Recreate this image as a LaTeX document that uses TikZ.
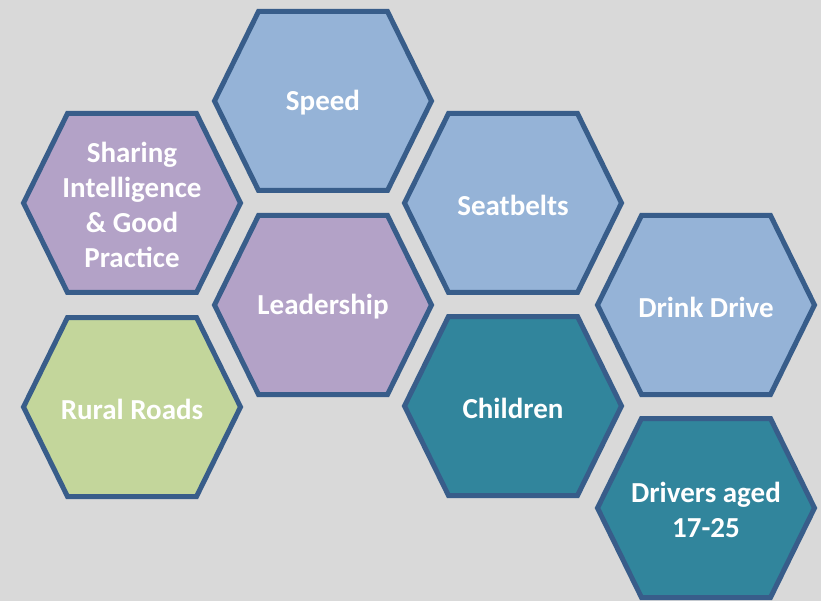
\documentclass[tikz,border=0pt]{standalone}
\usepackage{fontspec}
\setmainfont{Carlito}
\definecolor{bgc}{HTML}{D9D9D9}
\definecolor{edgec}{HTML}{385D8A}
\definecolor{bluec}{HTML}{95B3D7}
\definecolor{purplec}{HTML}{B3A2C7}
\definecolor{greenc}{HTML}{C3D69B}
\definecolor{tealc}{HTML}{31859C}
\tikzset{
  hexline/.style={draw=edgec, line width=5pt, line join=miter},
  hextext/.style={text=white, font=\fontsize{29}{35}\selectfont\bfseries, align=center, inner sep=0pt},
}
\newcommand{\hexcell}[5]{%
  \draw[hexline, fill=#4, shift={(#2,#3)}] (-108.5,0) -- (-64.5,-89.5) -- (64.5,-89.5) -- (108.5,0) -- (64.5,89.5) -- (-64.5,89.5) -- cycle;
  \node[hextext] (#1) at (#2,#3+2) {#5};
}
\begin{document}
\begin{tikzpicture}[x=1pt,y=-1pt]
\fill[bgc] (0,0) rectangle (821,601);
\useasboundingbox (0,0) rectangle (821,601);
\begin{scope}
\clip (0,0) rectangle (821,601);
\hexcell{speed}{323}{101}{bluec}{Speed}
\hexcell{sharing}{132}{203}{purplec}{Sharing\\Intelligence\\\& Good\\Practice}
\hexcell{leader}{323}{305}{purplec}{Leadership}
\hexcell{rural}{132}{407}{greenc}{Rural Roads}
\hexcell{seat}{513}{203}{bluec}{Seatbelts}
\hexcell{child}{513}{406}{tealc}{Children}
\hexcell{drink}{706}{305}{bluec}{Drink Drive}
\hexcell{young}{706}{508}{tealc}{Drivers aged\\17-25}
\end{scope}
\end{tikzpicture}
\end{document}
